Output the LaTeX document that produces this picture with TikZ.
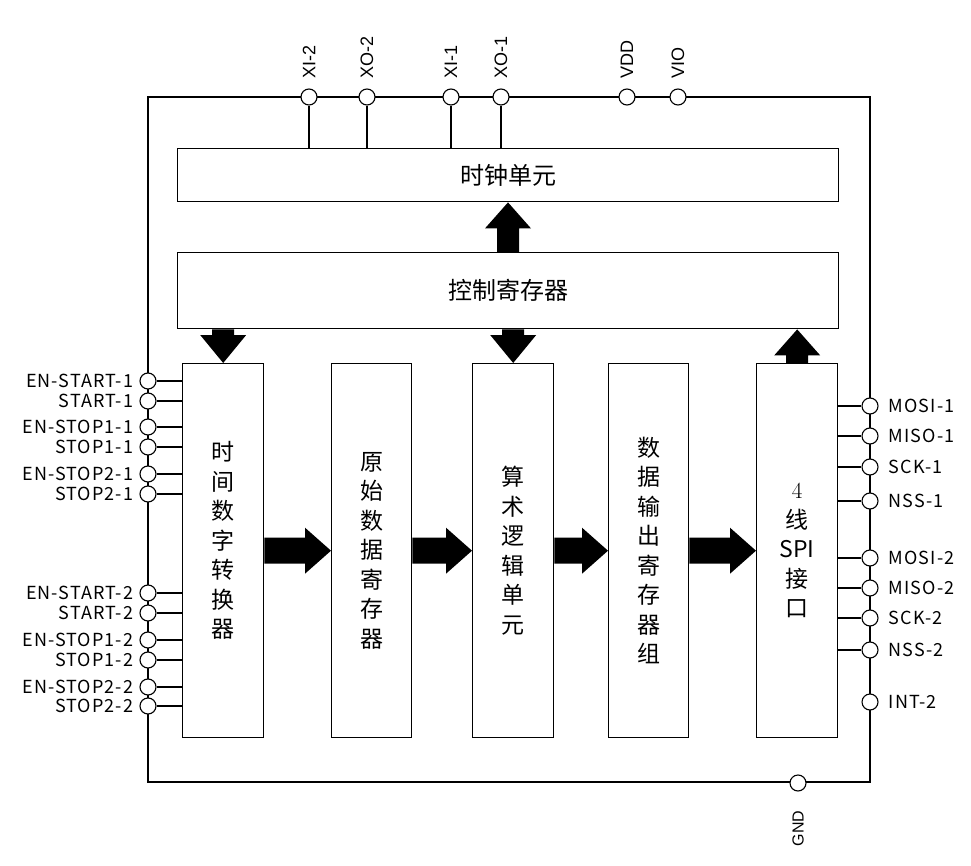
\documentclass[tikz,border=0pt]{standalone}
\usepackage{fontspec}
\newfontfamily\cjk{Noto Sans CJK SC}
\newfontfamily\cjkls[LetterSpace=6]{Noto Sans CJK SC}
\newfontfamily\arial{Liberation Sans}
\usetikzlibrary{calc}
\newcommand\rarr[2]{\fill let \p1=(#1), \p2=(#2) in (\x1,\y1+13pt) -- (\x2-26pt,\y1+13pt) -- (\x2-26pt,\y1+23pt) -- (\x2,\y1) -- (\x2-26pt,\y1-23pt) -- (\x2-26pt,\y1-13pt) -- (\x1,\y1-13pt) -- cycle;}
\newcommand\darr[2]{\fill let \p1=(#1), \p2=(#2) in (\x1-11pt,\y1) -- (\x1-11pt,\y2+28pt) -- (\x1-23pt,\y2+28pt) -- (\x1,\y2) -- (\x1+23pt,\y2+28pt) -- (\x1+11pt,\y2+28pt) -- (\x1+11pt,\y1) -- cycle;}
\newcommand\uarr[2]{\fill let \p1=(#1), \p2=(#2) in (\x1-11pt,\y1) -- (\x1-11pt,\y2-26pt) -- (\x1-23pt,\y2-26pt) -- (\x1,\y2) -- (\x1+23pt,\y2-26pt) -- (\x1+11pt,\y2-26pt) -- (\x1+11pt,\y1) -- cycle;}
\begin{document}
\begin{tikzpicture}[x=1pt,y=-1pt,
  box/.style={draw, line width=1.4pt, fill=white, inner sep=0pt, anchor=north west},
  hbox/.style={box, minimum width=661pt, font=\cjk\fontsize{24}{24}\selectfont},
  vbox/.style={box, minimum height=374pt},
  vtext/.style={align=center, inner sep=0pt, font=\cjk\fontsize{23}{29.5}\selectfont},
  pin/.style={circle, draw, fill=white, line width=1.1pt, minimum size=16pt, inner sep=0pt},
  wire/.style={line width=1.2pt},
  plbl/.style={font=\cjkls\fontsize{18}{18}\selectfont, inner sep=0pt},
  tlbl/.style={font=\arial\fontsize{18}{18}\selectfont, inner sep=0pt, rotate=90}]
\useasboundingbox (0,0) rectangle (971,866);
% outer frame
\draw[wire] (148,97) rectangle (870,782);
% boxes
\node[hbox, minimum height=53pt] (clock) at (177,148) {时钟单元};
\node[hbox, minimum height=76pt] (ctrl) at (177,252) {控制寄存器};
\node[vbox, minimum width=81pt] (b1) at (182,363) {};
\node[vbox, minimum width=80pt] (b2) at (331,363) {};
\node[vbox, minimum width=81pt] (b3) at (472,363) {};
\node[vbox, minimum width=80pt] (b4) at (608,363) {};
\node[vbox, minimum width=81pt] (b5) at (756,363) {};
\node[vtext] (t1) at ($(b1.center)+(0,-10)$) {时\\间\\数\\字\\转\\换\\器};
\node[vtext] (t2) at (b2.center) {原\\始\\数\\据\\寄\\存\\器};
\node[vtext] (t3) at (b3.center) {算\\术\\逻\\辑\\单\\元};
\node[vtext] (t4) at (b4.center) {数\\据\\输\\出\\寄\\存\\器\\组};
\node[vtext] (t5) at (b5.center) {{\rmfamily 4}\\线\\SPI\\接\\口};
% top pins
\foreach \n/\x/\t in {xi2/309/XI-2, xo2/367/XO-2, xi1/451/XI-1, xo1/501/XO-1, vdd/627/VDD, vio/678/VIO}{
  \node[pin] (\n) at (\x,97) {};
  \node[tlbl, anchor=west] at ($(\n.north)+(0,-10)$) {\t};
}
\foreach \n in {xi2,xo2,xi1,xo1}{\draw[wire] (\n.south) -- (\n |- clock.north);}
% left pins
\foreach \n/\y/\t in {l1/381/EN-START-1, l2/401/START-1, l3/427/EN-STOP1-1, l4/447/STOP1-1, l5/474/EN-STOP2-1, l6/494/STOP2-1,
                      l7/593/EN-START-2, l8/613/START-2, l9/640/EN-STOP1-2, l10/660/STOP1-2, l11/687/EN-STOP2-2, l12/706/STOP2-2}{
  \node[pin] (\n) at (148,\y) {};
  \draw[wire] (\n.east) -- (\n -| b1.west);
  \node[plbl, anchor=east] at ($(\n.west)+(-6,0)$) {\t};
}
% right pins
\foreach \n/\y/\t in {r1/406/MOSI-1, r2/436/MISO-1, r3/467/SCK-1, r4/501/NSS-1, r5/558/MOSI-2, r6/588/MISO-2, r7/618/SCK-2, r8/650/NSS-2}{
  \node[pin] (\n) at (870,\y) {};
  \draw[wire] (\n.west) -- (\n -| b5.east);
  \node[plbl, anchor=west] at ($(\n.east)+(10,0)$) {\t};
}
\node[pin] (int) at (870,702) {};
\node[plbl, anchor=west] at ($(int.east)+(10,0)$) {INT-2};
% GND
\node[pin] (gnd) at (798,783) {};
\node[tlbl, anchor=east, font=\arial\fontsize{16}{16}\selectfont] at ($(gnd.south)+(0,19)$) {GND};
% block arrows
\coordinate (cup) at (508,0);
\uarr{ctrl.north -| cup}{clock.south -| cup}
\darr{ctrl.south -| b1.north}{b1.north}
\darr{ctrl.south -| b3.north}{b3.north}
\uarr{b5.north}{b5.north |- ctrl.south}
\rarr{b1.east}{b2.west}
\rarr{b2.east}{b3.west}
\rarr{b3.east}{b4.west}
\rarr{b4.east}{b5.west}
\end{tikzpicture}
\end{document}
